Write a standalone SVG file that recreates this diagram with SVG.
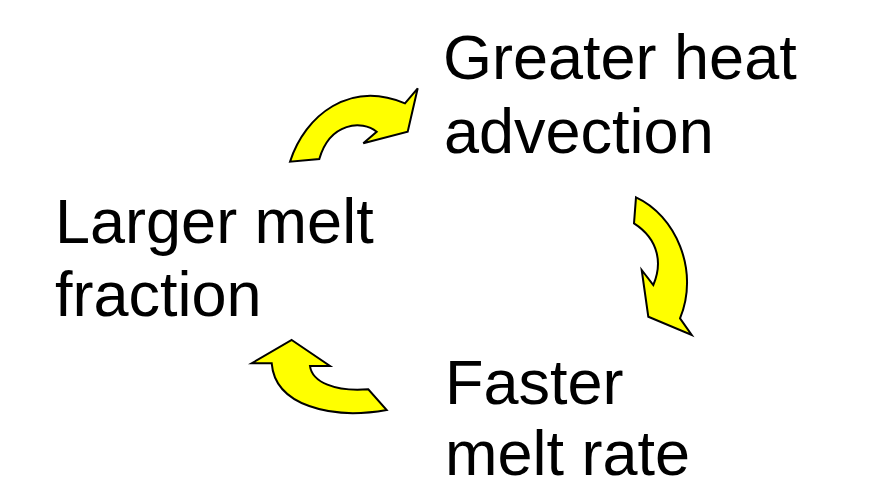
<svg xmlns="http://www.w3.org/2000/svg" width="892" height="485" viewBox="0 0 892 485">
  <style>
    .label { font-family: "Liberation Sans", Arial, sans-serif; font-size: 63px; fill: #000000; }
    .arrow { fill: #ffff00; stroke: #000000; stroke-width: 2; stroke-linejoin: miter; }
  </style>
  <rect width="892" height="485" fill="#ffffff"/>

  <g id="node-advection">
    <text class="label" x="443" y="79">Greater heat</text>
    <text class="label" x="444" y="153">advection</text>
  </g>
  <g id="node-melt-fraction">
    <text class="label" x="55" y="243">Larger melt</text>
    <text class="label" x="55" y="316">fraction</text>
  </g>
  <g id="node-melt-rate">
    <text class="label" x="445" y="404">Faster</text>
    <text class="label" x="445" y="475">melt rate</text>
  </g>

  <g id="connectors">
    <!-- fraction -> advection -->
    <path class="arrow" d="M290,161.7 C305,115 350,80 405,103.3 L417.7,88.3 L407.7,131.7 L363.3,143.3 L376.7,131.7 C362,120 330,122 319.3,159 Z"/>
    <!-- advection -> melt rate -->
    <path class="arrow" d="M636,197.3 C675,215 700,270 680,318.3 L691.7,335 L648.3,316.7 L641.7,270 L653.3,285 C662,265 660,240 634,223.3 Z"/>
    <!-- melt rate -> fraction -->
    <path class="arrow" d="M291.7,340 L330,366 L310,366 C312,382 335,392 368.3,389.3 L386.7,410 C330,420 275,405 271.7,363.3 L251.7,363.3 Z"/>
  </g>
</svg>
